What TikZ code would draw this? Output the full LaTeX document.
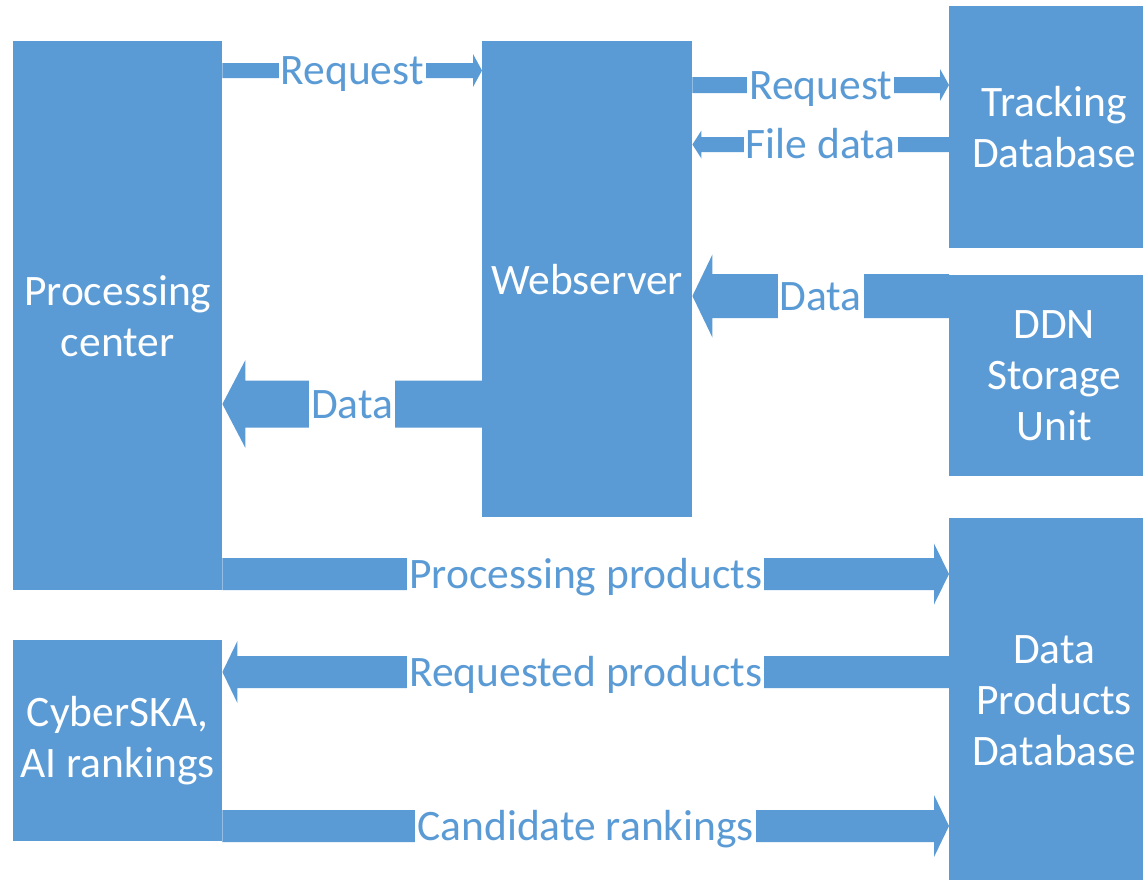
\documentclass[tikz,border=0pt]{standalone}
\usepackage{fontspec}
\setmainfont{Carlito}
\usetikzlibrary{calc}
\definecolor{officeblue}{HTML}{5B9BD5}
\tikzset{
  box/.style={fill=officeblue, draw=none, text=white, align=center, anchor=north west,
    inner sep=0pt, font=\fontsize{43.5}{51}\selectfont},
  lbl/.style={fill=white, text=officeblue, inner xsep=2pt, inner ysep=1pt,
    text height=38pt, text depth=10pt, font=\fontsize{43.5}{51}\selectfont},
  arrowfill/.style={fill=officeblue, draw=none}
}
% #1 start, #2 end, #3 shaft half width, #4 head half width, #5 signed head length, #6 label, #7 label name
\newcommand\blockarrow[7]{%
  \fill[arrowfill] let \p1=(#1), \p2=(#2) in
    ({\x1},{\y1+#3}) -- ({\x2-(#5)},{\y1+#3}) -- ({\x2-(#5)},{\y1+#4}) -- ({\x2},{\y1})
    -- ({\x2-(#5)},{\y1-#4}) -- ({\x2-(#5)},{\y1-#3}) -- ({\x1},{\y1-#3}) -- cycle;
  \path (#1) -- (#2) node[lbl, midway] (#7) {#6};
}
\begin{document}
\begin{tikzpicture}[x=1pt, y=-1pt]
\useasboundingbox (0,0) rectangle (1143,879);
\fill[white] (0,0) rectangle (1143,879);

% boxes
\node[box, minimum width=209pt, minimum height=549pt] (proc) at (13,41) {Processing\\center};
\node[box, minimum width=210pt, minimum height=476pt] (web) at (482,41) {Webserver};
\node[box, minimum width=210pt, minimum height=242pt] (track) at (949,6) {Tracking\\Database};
\node[box, minimum width=210pt, minimum height=201pt] (ddn) at (949,275) {DDN\\Storage\\Unit};
\node[box, minimum width=210pt, minimum height=364pt] (dpd) at (949,518) {Data\\Products\\Database};
\node[box, minimum width=209pt, minimum height=201pt] (cyber) at (13,640) {CyberSKA,\\AI rankings};

% arrow end points
\coordinate (r1s) at (proc.east |- 0,70.5);  \coordinate (r1e) at (web.west |- 0,70.5);
\coordinate (r2s) at (web.east |- 0,85);     \coordinate (r2e) at (track.west |- 0,85);
\coordinate (fds) at (track.west |- 0,144.5);\coordinate (fde) at (web.east |- 0,144.5);
\coordinate (d1s) at (ddn.west |- 0,296);    \coordinate (d1e) at (web.east |- 0,296);
\coordinate (d2s) at (web.west |- 0,404);    \coordinate (d2e) at (proc.east |- 0,404);
\coordinate (pps) at (proc.east |- 0,574);   \coordinate (ppe) at (dpd.west |- 0,574);
\coordinate (rps) at (dpd.west |- 0,672);    \coordinate (rpe) at (cyber.east |- 0,672);
\coordinate (crs) at (cyber.east |- 0,826);  \coordinate (cre) at (dpd.west |- 0,826);

% arrows
\blockarrow{r1s}{r1e}{7.5pt}{16.5pt}{9pt}{Request}{lreq1}
\blockarrow{r2s}{r2e}{8pt}{16pt}{9pt}{Request}{lreq2}
\blockarrow{fds}{fde}{7.5pt}{14pt}{-9pt}{File data}{lfile}
\blockarrow{d1s}{d1e}{22pt}{41.5pt}{-20pt}{Data}{ldata1}
\blockarrow{d2s}{d2e}{23.5pt}{44pt}{-23pt}{Data}{ldata2}
\blockarrow{pps}{ppe}{16pt}{30.5pt}{15pt}{Processing products}{lpp}
\blockarrow{rps}{rpe}{16pt}{31pt}{-15pt}{Requested products}{lrp}
\blockarrow{crs}{cre}{16pt}{31pt}{15pt}{Candidate rankings}{lcr}
\end{tikzpicture}
\end{document}
